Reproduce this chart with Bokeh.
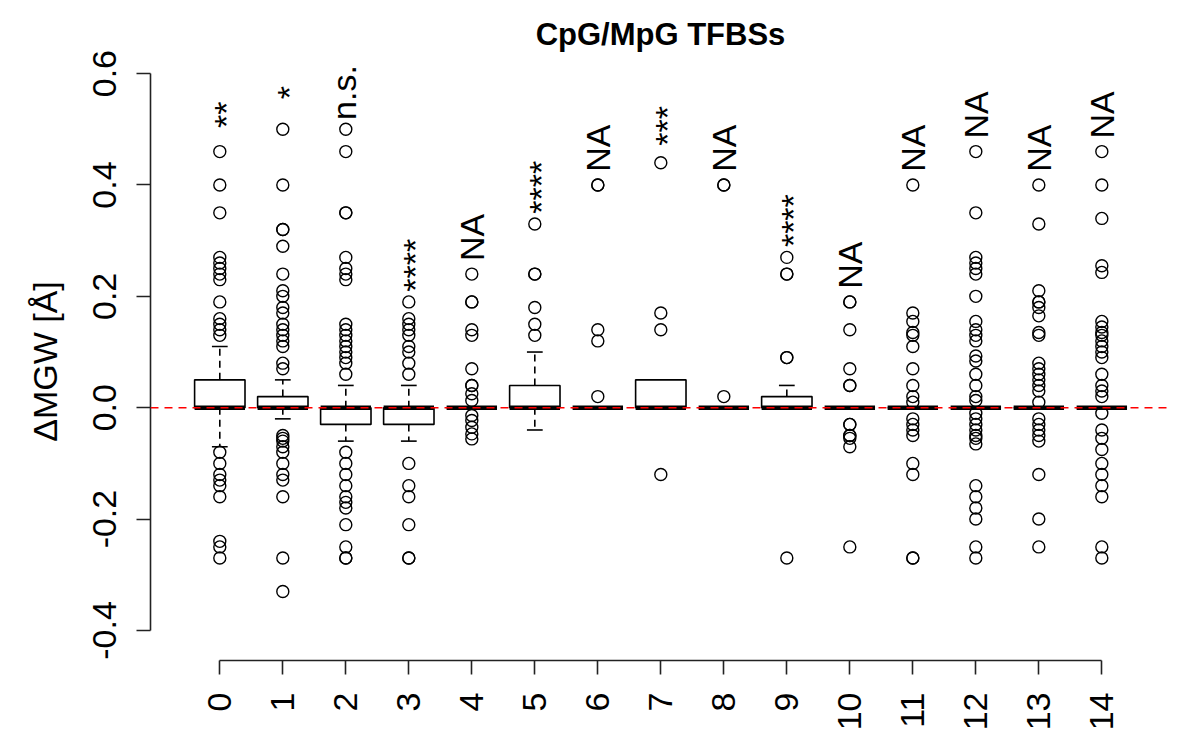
import math
from bokeh.plotting import figure
from bokeh.models import ColumnDataSource, Range1d, FixedTicker, Span, PrintfTickFormatter
from bokeh.core.properties import value
from bokeh.embed import file_html
from bokeh.resources import INLINE

# ---------------- data ----------------
groups = [0, 1, 2, 3, 4, 5, 6, 7, 8, 9, 10, 11, 12, 13, 14]
tick_labels = ["0", "1", "2", "3", "4", "5", "6", "7", "8", "9", "10", "11", "12", "13", "14"]
y_ticks = [-0.4, -0.2, 0.0, 0.2, 0.4, 0.6]

whisker_lo = [-0.07, -0.02, -0.06, -0.06, 0.0, -0.04, 0.0, 0.0, 0.0, 0.0, 0.0, 0.0, 0.0, 0.0, 0.0]
q1 = [0.0, 0.0, -0.03, -0.03, 0.0, 0.0, 0.0, 0.0, 0.0, 0.0, 0.0, 0.0, 0.0, 0.0, 0.0]
medians = [0.0, 0.0, 0.0, 0.0, 0.0, 0.0, 0.0, 0.0, 0.0, 0.0, 0.0, 0.0, 0.0, 0.0, 0.0]
q3 = [0.05, 0.02, 0.0, 0.0, 0.0, 0.04, 0.0, 0.05, 0.0, 0.02, 0.0, 0.0, 0.0, 0.0, 0.0]
whisker_hi = [0.11, 0.05, 0.04, 0.04, 0.0, 0.10, 0.0, 0.05, 0.0, 0.04, 0.0, 0.0, 0.0, 0.0, 0.0]

out_0 = [0.46, 0.40, 0.35, 0.27, 0.26, 0.25, 0.24, 0.23, 0.19, 0.16, 0.15, 0.14, 0.13,
         -0.08, -0.10, -0.12, -0.13, -0.14, -0.16, -0.24, -0.25, -0.27]
out_1 = [0.50, 0.40, 0.32, 0.32, 0.29, 0.24, 0.21, 0.20, 0.18, 0.17, 0.15, 0.14, 0.13, 0.12, 0.11,
         0.08, 0.07, -0.05, -0.055, -0.06, -0.07, -0.08, -0.10, -0.12, -0.13, -0.16, -0.27, -0.33]
out_2 = [0.50, 0.46, 0.35, 0.35, 0.27, 0.25, 0.24, 0.23, 0.15, 0.14, 0.13, 0.12, 0.11, 0.10, 0.09,
         0.08, 0.06, -0.08, -0.10, -0.12, -0.14, -0.16, -0.17, -0.18, -0.21, -0.25, -0.27, -0.27]
out_3 = [0.19, 0.16, 0.15, 0.14, 0.13, 0.11, 0.10, 0.08, 0.06, -0.10, -0.14, -0.16, -0.21, -0.27, -0.27]
out_4 = [0.24, 0.19, 0.19, 0.14, 0.13, 0.07, 0.04, 0.04, 0.025, 0.013, -0.014, -0.023, -0.035,
         -0.047, -0.056]
out_5 = [0.33, 0.24, 0.24, 0.18, 0.15, 0.13]
out_6 = [0.40, 0.40, 0.14, 0.12, 0.02]
out_7 = [0.44, 0.17, 0.14, -0.12]
out_8 = [0.40, 0.40, 0.02]
out_9 = [0.27, 0.24, 0.24, 0.09, 0.09, -0.27]
out_10 = [0.19, 0.19, 0.14, 0.07, 0.04, 0.04, -0.03, -0.03, -0.05, -0.05, -0.055, -0.07, -0.25]
out_11 = [0.40, 0.17, 0.155, 0.135, 0.13, 0.11, 0.07, 0.04, 0.02, 0.01, -0.02, -0.03, -0.04,
          -0.05, -0.10, -0.12, -0.27, -0.27]
out_12 = [0.46, 0.35, 0.27, 0.26, 0.25, 0.24, 0.20, 0.155, 0.14, 0.13, 0.12, 0.093, 0.084, 0.06,
          0.04, 0.02, 0.013, -0.01, -0.02, -0.03, -0.04, -0.05, -0.055, -0.065, -0.14, -0.16,
          -0.18, -0.20, -0.25, -0.27]
out_13 = [0.40, 0.33, 0.21, 0.19, 0.19, 0.18, 0.165, 0.135, 0.13, 0.08, 0.07, 0.06, 0.05, 0.04,
          0.03, 0.01, -0.02, -0.03, -0.04, -0.05, -0.06, -0.12, -0.20, -0.25]
out_14 = [0.46, 0.40, 0.34, 0.255, 0.243, 0.155, 0.145, 0.135, 0.13, 0.12, 0.11, 0.10, 0.09, 0.06,
          0.04, 0.03, 0.02, -0.01, -0.04, -0.055, -0.075, -0.10, -0.12, -0.14, -0.16, -0.25, -0.27]

sig_labels = ["**", "*", "n.s.", "****", "NA", "****", "NA", "***", "NA", "****",
              "NA", "NA", "NA", "NA", "NA"]

title_text = "CpG/MpG TFBSs"
y_label = "\u0394MGW [\u00c5]"

# ---------------- build ----------------
FONT = "Liberation Sans"
outliers = [out_0, out_1, out_2, out_3, out_4, out_5, out_6, out_7, out_8, out_9,
            out_10, out_11, out_12, out_13, out_14]

BOXW = 0.8
STAPLE = 0.25
DASH = "7 5"
RED_DASH = "8 6"

p = figure(frame_width=1020, frame_height=598,
           min_border_left=150, min_border_right=14, min_border_top=62, min_border_bottom=74,
           x_range=Range1d(-1.1, 15.09), y_range=Range1d(-0.454, 0.62),
           output_backend="svg", toolbar_location=None, title=title_text)

p.background_fill_color = "white"
p.border_fill_color = "white"
p.outline_line_color = None
p.grid.visible = False

p.title.text_font = FONT
p.title.text_font_size = "31px"
p.title.text_font_style = "bold"
p.title.align = "center"
p.title.text_color = "black"
p.title.standoff = 21

# axes
for ax in (p.xaxis[0], p.yaxis[0]):
    ax.axis_line_width = 1.6
    ax.axis_line_color = "#222222"
    ax.major_tick_line_width = 1.6
    ax.major_tick_line_color = "#222222"
    ax.major_tick_out = 14
    ax.major_tick_in = 0
    ax.minor_tick_line_color = None
    ax.major_label_text_font = FONT
    ax.major_label_text_font_size = "34px"
    ax.major_label_text_color = "black"

p.yaxis.ticker = FixedTicker(ticks=y_ticks)
p.yaxis.formatter = PrintfTickFormatter(format="%.1f")
p.yaxis.bounds = (y_ticks[0], y_ticks[-1])
p.yaxis.major_label_orientation = "parallel"
p.yaxis.major_label_standoff = 20
p.yaxis.axis_label = y_label
p.yaxis.axis_label_text_font = FONT
p.yaxis.axis_label_text_font_size = "34px"
p.yaxis.axis_label_text_font_style = "normal"
p.yaxis.axis_label_text_color = "black"
p.yaxis.axis_label_standoff = 27

p.xaxis.ticker = FixedTicker(ticks=groups)
p.xaxis.major_label_overrides = {g: t for g, t in zip(groups, tick_labels)}
p.xaxis.bounds = (groups[0], groups[-1])
p.xaxis.major_label_orientation = math.pi / 2
p.xaxis.major_label_standoff = 18

# box plot parts
src = ColumnDataSource(dict(
    x=groups,
    left=[g - BOXW / 2 for g in groups],
    right=[g + BOXW / 2 for g in groups],
    sl=[g - STAPLE / 2 for g in groups],
    sr=[g + STAPLE / 2 for g in groups],
    wlo=whisker_lo, q1=q1, med=medians, q3=q3, whi=whisker_hi,
))

# whiskers (dashed)
p.segment(x0="x", y0="q3", x1="x", y1="whi", source=src, line_color="black",
          line_width=1.6, line_dash=DASH)
p.segment(x0="x", y0="q1", x1="x", y1="wlo", source=src, line_color="black",
          line_width=1.6, line_dash=DASH)
# staples
p.segment(x0="sl", y0="whi", x1="sr", y1="whi", source=src, line_color="black", line_width=1.6)
p.segment(x0="sl", y0="wlo", x1="sr", y1="wlo", source=src, line_color="black", line_width=1.6)
# boxes
p.quad(left="left", right="right", bottom="q1", top="q3", source=src,
       fill_color="white", line_color="black", line_width=1.6)
# medians
p.segment(x0="left", y0="med", x1="right", y1="med", source=src, line_color="black",
          line_width=4.5)

# outliers
ox, oy = [], []
for g, vals in zip(groups, outliers):
    ox.extend([g] * len(vals))
    oy.extend(vals)
p.scatter(x=ox, y=oy, marker="circle", size=12, fill_color=None, line_color="black",
          line_width=1.4)

# zero reference line
p.add_layout(Span(location=0, dimension="width", line_color="red", line_width=1.4,
                  line_dash=RED_DASH))

# significance labels, rotated, above each group's maximum
tops = [max(vals + [hi]) for vals, hi in zip(outliers, whisker_hi)]
lab_src = ColumnDataSource(dict(
    x=groups,
    y=[t + 0.066 for t in tops],
    text=sig_labels,
    xo=[6 if "*" in s else (-2 if s == "n.s." else 0) for s in sig_labels],
))
p.text(x="x", y="y", text="text", source=lab_src, angle=math.pi / 2,
       text_align="center", text_baseline="middle", x_offset="xo",
       text_font=value(FONT), text_font_size="34px", text_color="black")

open("out.html", "w").write(file_html(p, INLINE))
